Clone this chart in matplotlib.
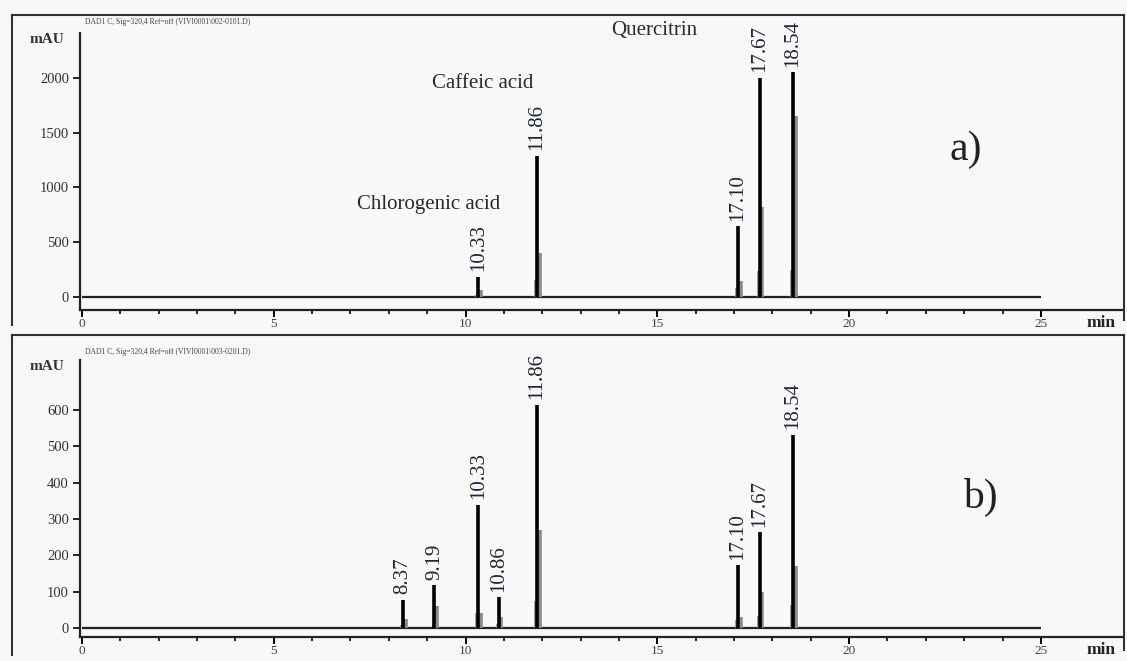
import numpy as np
import matplotlib
matplotlib.use('Agg')
import matplotlib.pyplot as plt
from matplotlib.lines import Line2D

# peak tables
times_a = [10.33, 11.86, 17.10, 17.67, 18.54]
heights_a = [185, 1290, 645, 2000, 2050]
shoulder_a = [60, 400, 150, 820, 1650]
labels_a = ['10.33', '11.86', '17.10', '17.67', '18.54']

times_b = [8.37, 9.19, 10.33, 10.86, 11.86, 17.10, 17.67, 18.54]
heights_b = [77, 118, 339, 85, 614, 173, 264, 532]
shoulder_b = [25, 60, 40, 30, 270, 30, 100, 170]
labels_b = ['8.37', '9.19', '10.33', '10.86', '11.86', '17.10', '17.67', '18.54']

compounds = ['Chlorogenic acid', 'Caffeic acid', 'Quercitrin']
compound_x = [9.04, 10.44, 14.91]
compound_y = [840, 1950, 2430]

yticks_a = [0, 500, 1000, 1500, 2000]
yticks_b = [0, 100, 200, 300, 400, 500, 600]
xticks = [0, 5, 10, 15, 20, 25]

header_a = 'DAD1 C, Sig=320,4 Ref=off (VIVI0001\\002-0101.D)'
header_b = 'DAD1 C, Sig=320,4 Ref=off (VIVI0001\\003-0201.D)'

serif = 'Liberation Serif'
bg = '#f8f8f8'
W, H = 1127, 661

fig = plt.figure(figsize=(W / 100, H / 100), dpi=100, facecolor=bg)


def px(x, y):
    # pixel position -> figure fraction
    return x / W, 1 - y / H


def draw_panel(ax, times, heights, shoulders, labels, ylim, yticks):
    ax.set_facecolor(bg)
    ax.set_xlim(-0.05, 27.14)
    ax.set_ylim(*ylim)
    for s in ['top', 'right']:
        ax.spines[s].set_visible(False)
    for s in ['left', 'bottom']:
        ax.spines[s].set_linewidth(1.6)
        ax.spines[s].set_color('#222222')
    # baseline
    ax.hlines(0, 0, 25, color='#222222', lw=1.6)
    t = np.array(times)
    ax.vlines(t + 0.07, 0, shoulders, color='#8a8a8a', lw=2.6)
    ax.vlines(t - 0.05, 0, np.array(heights) * 0.12, color='#8a8a8a', lw=1.2)
    ax.vlines(t, 0, heights, color='black', lw=2.6)
    for x, h, lab in zip(times, heights, labels):
        ax.annotate(lab, (x, h), xytext=(0, 4), textcoords='offset points',
                    rotation=90, ha='center', va='bottom', fontsize=15,
                    family=serif, color='#1e2636', annotation_clip=False)
    ax.set_xticks(xticks)
    ax.set_xticks(np.arange(0, 26, 1), minor=True)
    ax.set_xticklabels([str(v) for v in xticks], family=serif, fontsize=9.5,
                       color='#3a4456')
    ax.set_yticks(yticks)
    ax.set_yticklabels([str(v) for v in yticks], family=serif, fontsize=10.5,
                       color='#333333')
    ax.tick_params(axis='x', which='major', direction='out', length=5,
                   width=1.4, pad=1)
    ax.tick_params(axis='x', which='minor', direction='out', length=3,
                   width=1.2)
    ax.tick_params(axis='y', direction='out', length=5, width=1.2, pad=3)
    ax.text(-0.015, 1.0, 'mAU', transform=ax.transAxes, ha='right',
            va='top', family=serif, fontsize=11, fontweight='bold',
            color='#333333')
    ax.text((1116 - 80) / 1043, -13 / 277, 'min', transform=ax.transAxes,
            ha='right', va='center', family=serif, fontsize=12.5,
            fontweight='bold', color='#222222')


ax_a = fig.add_axes([80 / W, 1 - 310 / H, 1043 / W, 277 / H])
ax_b = fig.add_axes([80 / W, 1 - 637 / H, 1043 / W, 277 / H])

draw_panel(ax_a, times_a, heights_a, shoulder_a, labels_a, (-119, 2408), yticks_a)
draw_panel(ax_b, times_b, heights_b, shoulder_b, labels_b, (-25, 738), yticks_b)

for name, x, y in zip(compounds, compound_x, compound_y):
    ax_a.text(x, y, name, ha='center', va='center', family=serif, fontsize=15,
              color='#2a2a2a', clip_on=False)

ax_a.text(23.04, 1340, 'a)', ha='center', va='center', family=serif,
          fontsize=30, color='#222222')
ax_b.text(23.43, 358, 'b)', ha='center', va='center', family=serif,
          fontsize=30, color='#222222')

# tiny instrument headers
fig.text(*px(85, 22), header_a, fontsize=5.5, family=serif, color='#444444',
         va='center')
fig.text(*px(85, 352), header_b, fontsize=5.5, family=serif, color='#444444',
         va='center')

# panel frames
frame = dict(color='#333333', lw=1.5)
for top, bottom in [(15, 325), (335, 655)]:
    fig.add_artist(Line2D([12 / W, 12 / W], [1 - top / H, 1 - bottom / H], **frame))
    fig.add_artist(Line2D([12 / W, 1124 / W], [1 - top / H, 1 - top / H], **frame))
    fig.add_artist(Line2D([1124 / W, 1124 / W], [1 - top / H, 1 - (bottom - 5) / H], **frame))

fig.savefig('out.png', dpi=100, facecolor=bg)
